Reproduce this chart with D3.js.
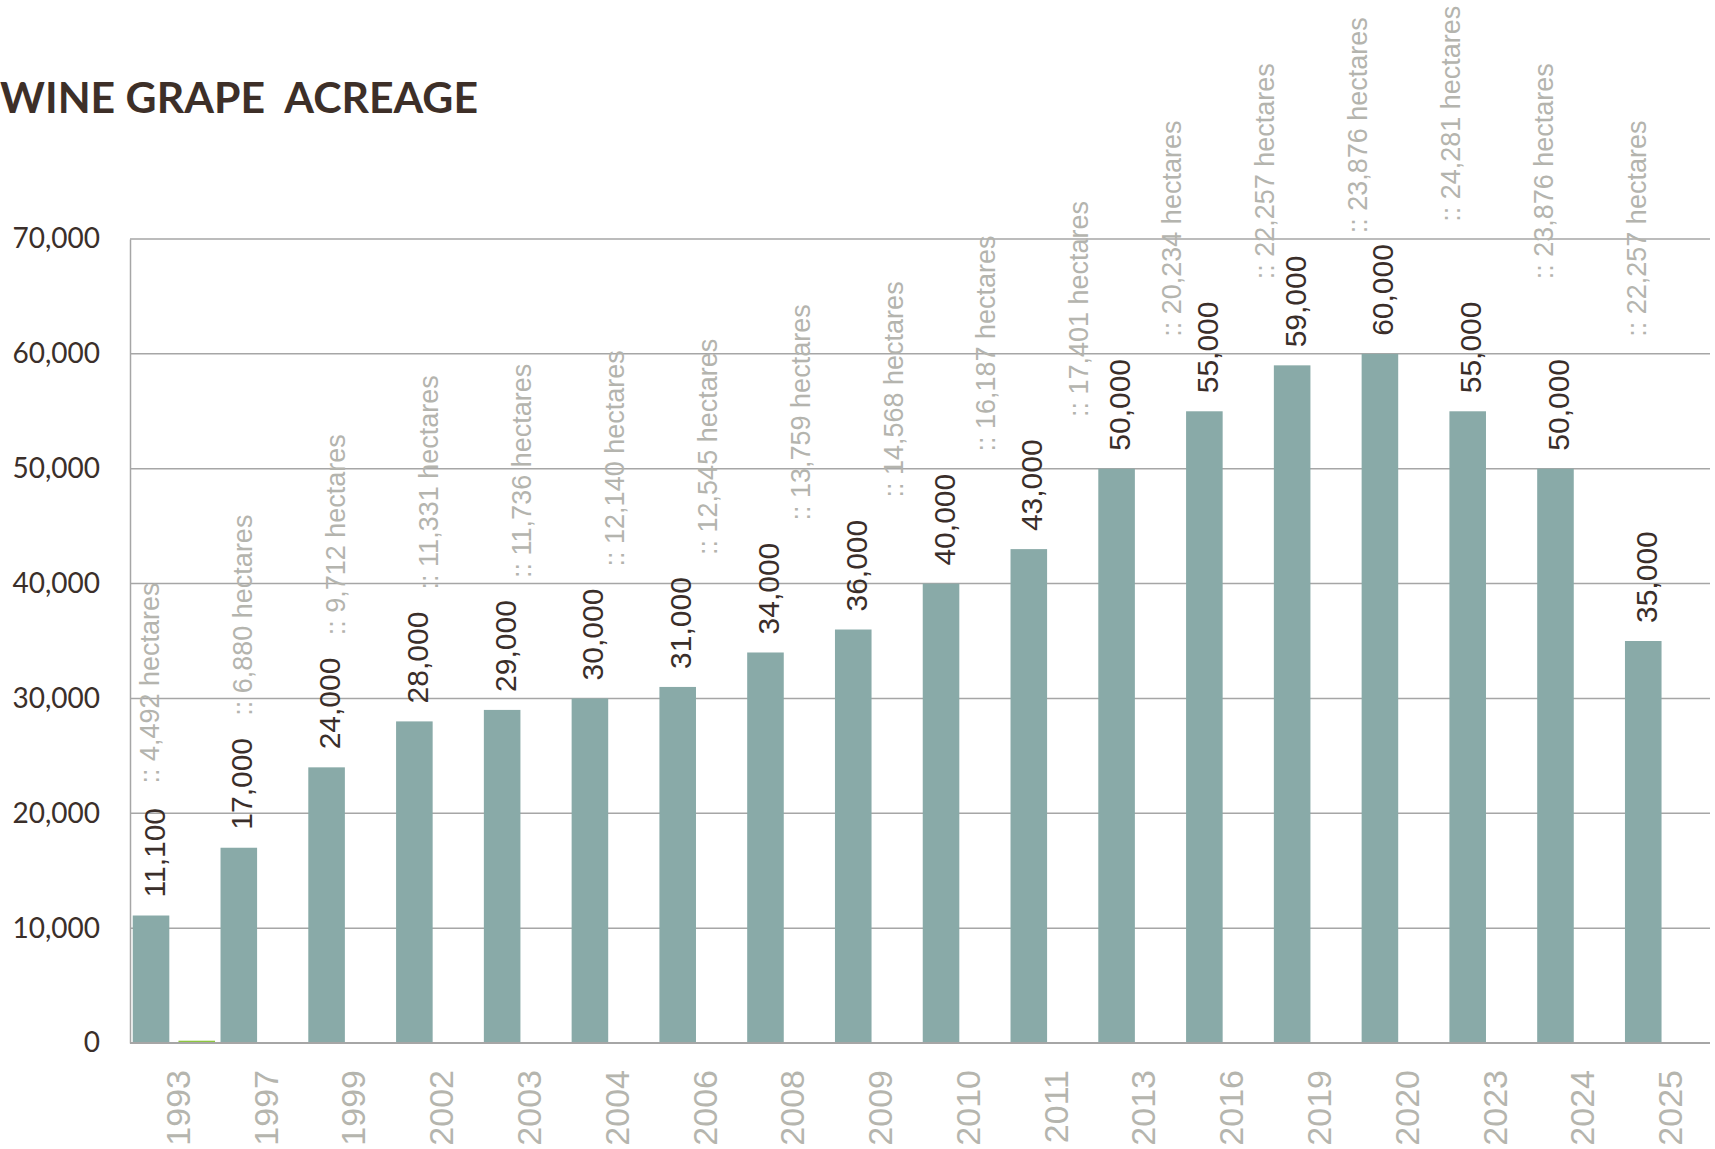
<!DOCTYPE html>
<html>
<head>
<meta charset="utf-8">
<script src="https://cdn.jsdelivr.net/npm/d3@7"></script>
<style>
  html, body { margin: 0; padding: 0; background: #ffffff; }
  svg { display: block; }
</style>
</head>
<body>
<div id="chart"></div>
<script>
// data
const years = ['1993', '1997', '1999', '2002', '2003', '2004', '2006', '2008', '2009',
  '2010', '2011', '2013', '2016', '2019', '2020', '2023', '2024', '2025']
const acres = [11100, 17000, 24000, 28000, 29000, 30000, 31000, 34000, 36000,
  40000, 43000, 50000, 55000, 59000, 60000, 55000, 50000, 35000]
// small second series (only visible in 1993)
const other = [200, 0, 0, 0, 0, 0, 0, 0, 0, 0, 0, 0, 0, 0, 0, 0, 0, 0]
// hectare notes, 17 of them, spread on their own even spacing
const hectares = ['4,492', '6,880', '9,712', '11,331', '11,736', '12,140', '12,545',
  '13,759', '14,568', '16,187', '17,401', '20,234', '22,257', '23,876', '24,281',
  '23,876', '22,257']
const yTicks = [0, 10000, 20000, 30000, 40000, 50000, 60000, 70000]

const W = 1715, H = 1149
const plotLeft = 130, plotRight = 1710, plotTop = 239, plotBottom = 1043

const svg = d3.select('#chart').append('svg')
  .attr('width', W)
  .attr('height', H)

const x = d3.scaleBand().domain(years).range([plotLeft, plotRight]).paddingInner(0).paddingOuter(0)
const xs = d3.scaleBand().domain(['acres', 'other']).range([0, x.bandwidth()])
  .paddingInner(0.2).paddingOuter(0.06)
const y = d3.scaleLinear().domain([0, 70000]).range([plotBottom, plotTop])
const hx = d3.scalePoint().domain(hectares.map((d, i) => i)).range([150, 1637])

const fmt = d3.format(',')

// title
svg.append('text')
  .attr('x', 0)
  .attr('y', 113)
  .attr('font-family', 'Lato, "Open Sans", sans-serif')
  .attr('font-weight', 'bold')
  .attr('font-size', 42)
  .attr('fill', '#3d2f28')
  .attr('textLength', 478)
  .attr('lengthAdjust', 'spacingAndGlyphs')
  .style('white-space', 'pre')
  .text('WINE GRAPE  ACREAGE')

// gridlines
svg.append('g')
  .selectAll('line')
  .data(yTicks.filter(d => d > 0))
  .join('line')
  .attr('x1', plotLeft)
  .attr('x2', plotRight)
  .attr('y1', d => y(d))
  .attr('y2', d => y(d))
  .attr('stroke', '#a6a6a6')
  .attr('stroke-width', 1.5)

// y axis
const yAxis = svg.append('g')
  .attr('transform', `translate(${plotLeft},0)`)
  .call(d3.axisLeft(y).tickValues(yTicks).tickFormat(fmt).tickSize(0).tickPadding(30))
yAxis.select('.domain').attr('stroke', '#a6a6a6').attr('stroke-width', 1.5)
yAxis.selectAll('text')
  .attr('font-family', 'Lato, sans-serif')
  .attr('font-size', 28)
  .attr('fill', '#3b2f2a')

// bars
const groups = svg.append('g')
  .selectAll('g')
  .data(years)
  .join('g')
  .attr('transform', d => `translate(${x(d)},0)`)

groups.append('rect')
  .attr('x', xs('acres'))
  .attr('width', xs.bandwidth())
  .attr('y', (d, i) => y(acres[i]))
  .attr('height', (d, i) => y(0) - y(acres[i]))
  .attr('fill', '#89aaa8')

groups.append('rect')
  .attr('x', xs('other'))
  .attr('width', xs.bandwidth())
  .attr('y', (d, i) => y(other[i]))
  .attr('height', (d, i) => y(0) - y(other[i]))
  .attr('fill', '#8dc63f')

// x axis line
svg.append('line')
  .attr('x1', plotLeft)
  .attr('x2', plotRight)
  .attr('y1', y(0))
  .attr('y2', y(0))
  .attr('stroke', '#a6a6a6')
  .attr('stroke-width', 2)

// value labels
groups.append('text')
  .attr('transform', (d, i) => {
    const cx = xs('acres') + xs.bandwidth() / 2 + 3
    return `translate(${cx},${y(acres[i]) - 18}) rotate(-90)`
  })
  .attr('text-anchor', 'start')
  .attr('dominant-baseline', 'central')
  .attr('font-family', '"Liberation Sans", Arial, sans-serif')
  .attr('font-size', 30)
  .attr('fill', '#3a2e2a')
  .text((d, i) => fmt(acres[i]))

// hectare notes
svg.append('g')
  .selectAll('text')
  .data(hectares)
  .join('text')
  .attr('transform', (d, i) => `translate(${hx(i)},${y(acres[i]) - 132}) rotate(-90)`)
  .attr('text-anchor', 'start')
  .attr('dominant-baseline', 'central')
  .attr('font-family', '"Liberation Sans", Arial, sans-serif')
  .attr('font-size', 27)
  .attr('fill', '#b4b4ae')
  .text(d => `:: ${d} hectares`)

// year labels
svg.append('g')
  .selectAll('text')
  .data(years)
  .join('text')
  .attr('transform', d => `translate(${x(d) + x.bandwidth() / 2 + 4},1070) rotate(-90)`)
  .attr('text-anchor', 'end')
  .attr('dominant-baseline', 'central')
  .attr('font-family', '"Liberation Sans", Arial, sans-serif')
  .attr('font-size', 34)
  .attr('fill', '#b5b5ae')
  .text(d => d)
</script>
</body>
</html>
